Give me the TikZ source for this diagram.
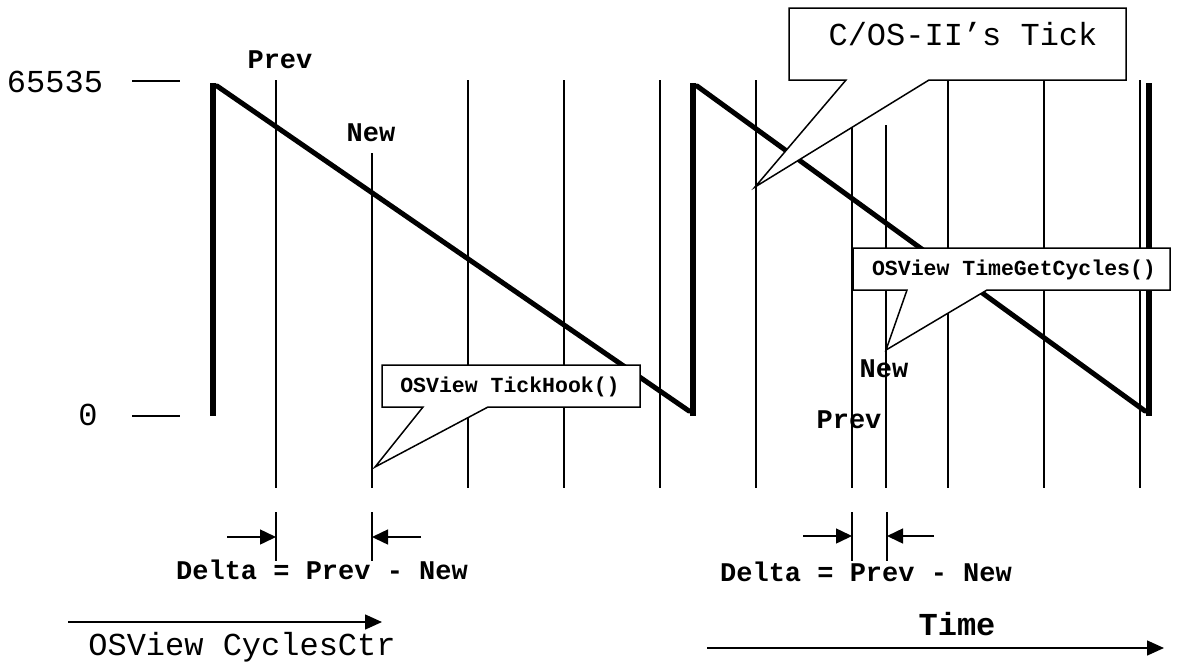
\documentclass[tikz,border=0pt]{standalone}
\usepackage{fontspec}
\setmainfont{Liberation Mono}
\usetikzlibrary{arrows.meta}
\begin{document}
\begin{tikzpicture}[x=1pt,y=-1pt,
  gridline/.style={line width=1.5pt},
  ramp/.style={line width=5pt,line cap=round},
  wall/.style={line width=6pt},
  callout/.style={draw,fill=white,line width=1.5pt,line join=miter},
  axistxt/.style={font=\fontsize{32}{32}\selectfont,inner sep=0pt,anchor=base},
  marktxt/.style={font=\fontsize{27}{27}\selectfont\bfseries,inner sep=0pt,anchor=base},
  calltxt/.style={font=\fontsize{21.5}{21.5}\selectfont\bfseries,inner sep=0pt,anchor=base},
  pointer/.style={line width=1.5pt,-{Triangle[length=16pt,width=15pt]}},
  timearrow/.style={line width=1.5pt,-{Triangle[length=17pt,width=15pt]}}]
\useasboundingbox (0,0) rectangle (1177,664);

% level marks on the left
\node[axistxt] (top) at (55,92) {65535};
\node[axistxt] (bottom) at (88,425) {0};
\coordinate (topA) at (132,81);  \coordinate (topB) at (180,81);
\coordinate (botA) at (132,416); \coordinate (botB) at (180,416);
\draw[gridline] (topA) -- (topB);
\draw[gridline] (botA) -- (botB);

% sample instants (thin verticals)
\foreach \x/\t in {276/80,372/153,468/80,564/80,660/80,756/80,852/128,886/125,948/80,1044/80,1140/80}
  \draw[gridline] (\x,\t) -- (\x,488);

% counter sawtooth
\coordinate (w1t) at (213,83);  \coordinate (w1b) at (213,416);
\coordinate (w2t) at (693,83);  \coordinate (w2b) at (693,416);
\coordinate (w3t) at (1149,83); \coordinate (w3b) at (1149,416);
\draw[wall] (w1t) -- (w1b);
\draw[wall] (w2t) -- (w2b);
\draw[wall] (w3t) -- (w3b);
\draw[ramp] (217,86) -- (689,411);
\draw[ramp] (697,86) -- (1145,411);

% sample labels
\node[marktxt] (prevA) at (280,68) {Prev};
\node[marktxt] (newA) at (371,141) {New};
\node[marktxt] (newB) at (884,377) {New};
\node[marktxt] (prevB) at (849,428) {Prev};

% callouts
\draw[callout] (789,8) -- (1126,8) -- (1126,80) -- (929,80) -- (755,187) -- (846,80) -- (789,80) -- cycle;
\node[axistxt] (tick) at (963,45) {C/OS-II’s Tick};

\draw[callout] (382,365) -- (640,365) -- (640,407) -- (488,407) -- (375,467) -- (423,407) -- (382,407) -- cycle;
\node[calltxt] (hook) at (510,392) {OSView TickHook()};

\draw[callout] (853,248) -- (1170,248) -- (1170,290) -- (987,290) -- (886,350) -- (907,290) -- (853,290) -- cycle;
\node[calltxt] (getc) at (1014,275) {OSView TimeGetCycles()};

% delta markers, first period
\coordinate (d1a) at (276,512); \coordinate (d1b) at (276,561);
\coordinate (d2a) at (372,512); \coordinate (d2b) at (372,561);
\draw[gridline] (d1a) -- (d1b);
\draw[gridline] (d2a) -- (d2b);
\coordinate (p1) at (227,537); \coordinate (q1) at (276,537);
\coordinate (p2) at (421,537); \coordinate (q2) at (372,537);
\draw[pointer] (p1) -- (q1);
\draw[pointer] (p2) -- (q2);
\node[marktxt] (deltaA) at (322,579) {Delta = Prev - New};

% delta markers, second period
\coordinate (d3a) at (852,512); \coordinate (d3b) at (852,561);
\coordinate (d4a) at (887,512); \coordinate (d4b) at (887,561);
\draw[gridline] (d3a) -- (d3b);
\draw[gridline] (d4a) -- (d4b);
\coordinate (p3) at (803,536); \coordinate (q3) at (852,536);
\coordinate (p4) at (934,536); \coordinate (q4) at (887,536);
\draw[pointer] (p3) -- (q3);
\draw[pointer] (p4) -- (q4);
\node[marktxt] (deltaB) at (866,581) {Delta = Prev - New};

% bottom axes
\coordinate (c1) at (68,622); \coordinate (c2) at (382,622);
\draw[timearrow] (c1) -- (c2);
\node[axistxt] (ctr) at (242,655) {OSView CyclesCtr};
\coordinate (t1) at (707,648); \coordinate (t2) at (1164,648);
\draw[timearrow] (t1) -- (t2);
\node[marktxt,font=\fontsize{32}{32}\selectfont\bfseries] (time) at (957,635) {Time};
\end{tikzpicture}
\end{document}
